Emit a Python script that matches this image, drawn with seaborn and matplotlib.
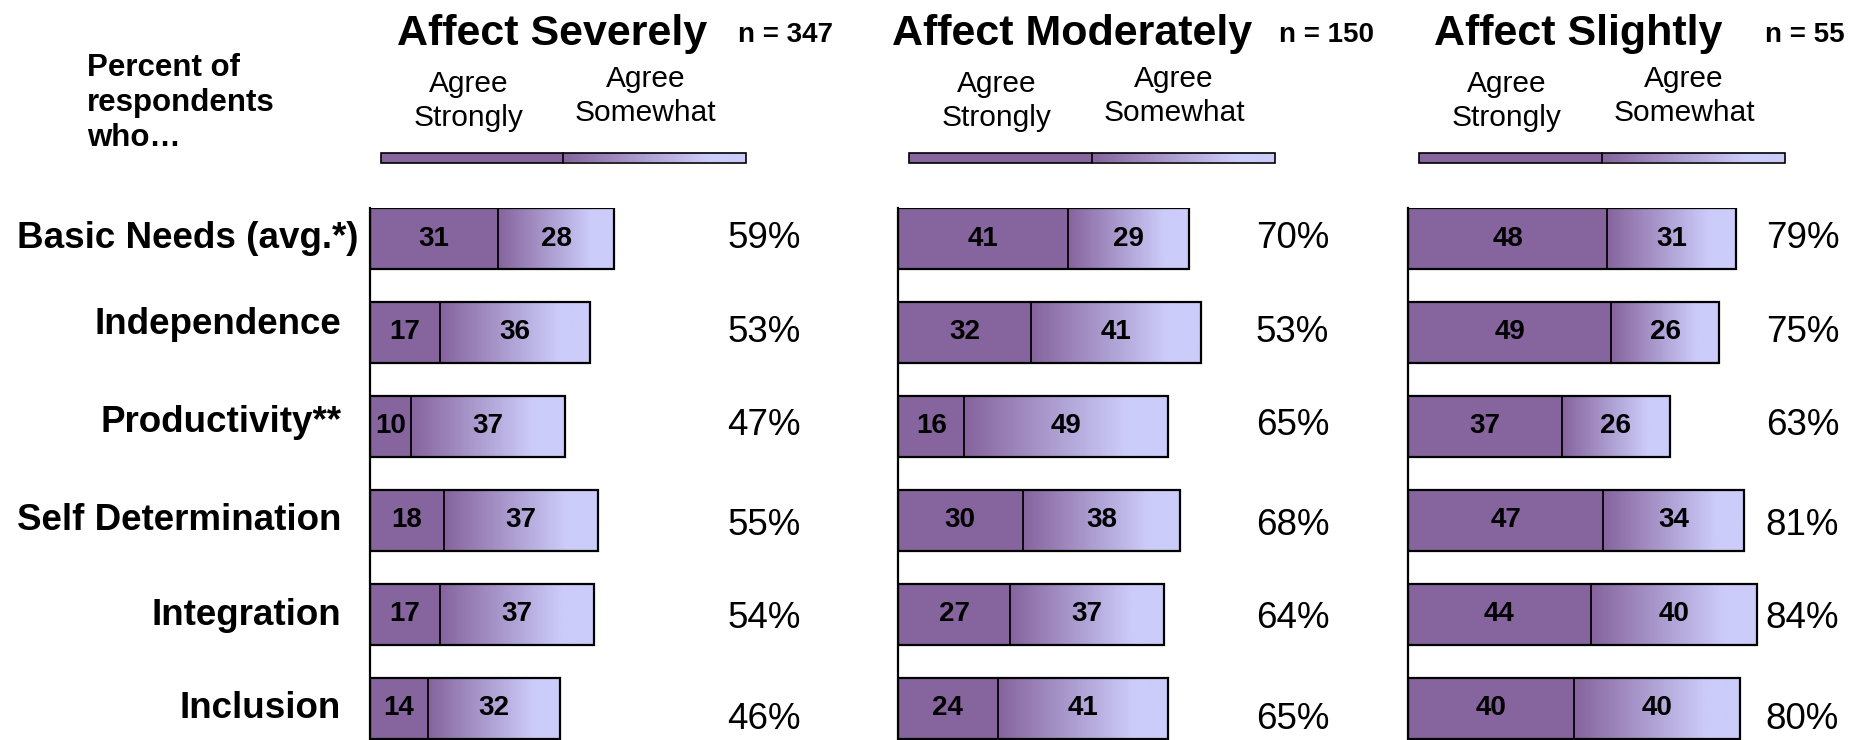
import numpy as np
import pandas as pd
import seaborn as sns
import matplotlib.pyplot as plt
import matplotlib.transforms as mtransforms
from matplotlib.colors import LinearSegmentedColormap
from matplotlib.patches import Rectangle

# DATA

categories = ["Basic Needs (avg.*)", "Independence", "Productivity**",
              "Self Determination", "Integration", "Inclusion"]

panel_titles = ["Affect Severely", "Affect Moderately", "Affect Slightly"]
panel_n = ["n = 347", "n = 150", "n = 55"]

strongly_sev = [31, 17, 10, 18, 17, 14]
somewhat_sev = [28, 36, 37, 37, 37, 32]
total_sev = ["59%", "53%", "47%", "55%", "54%", "46%"]

strongly_mod = [41, 32, 16, 30, 27, 24]
somewhat_mod = [29, 41, 49, 38, 37, 41]
total_mod = ["70%", "53%", "65%", "68%", "64%", "65%"]

strongly_sli = [48, 49, 37, 47, 44, 40]
somewhat_sli = [31, 26, 26, 34, 40, 40]
total_sli = ["79%", "75%", "63%", "81%", "84%", "80%"]

panels = [
    (strongly_sev, somewhat_sev, total_sev),
    (strongly_mod, somewhat_mod, total_mod),
    (strongly_sli, somewhat_sli, total_sli),
]

# LAYOUT (figure pixels)

W, H = 1860, 740
AX_TOP = 208
PX_UNIT = 4.152
axis_left = [369.5, 898, 1408]
title_x = [552, 1072, 1578]
n_x = [785, 1326, 1805]
label_pad = [11, 28, 28, 28, 28, 29]
label_dy = [0, -8, -4, 0, 1, 0]
pct_dy = [0, 0, -1, 5, 4, 11]

DARK = "#86649E"
LIGHT = "#CCCCFA"
cmap = LinearSegmentedColormap.from_list("agree", [DARK, LIGHT])
ramp = np.clip(np.linspace(0, 1, 256) / 0.8, 0, 1)[None, :]

sns.set_theme(style="white")
plt.rcParams["font.family"] = ["Liberation Sans", "DejaVu Sans"]
plt.rcParams["text.color"] = "black"

fig = plt.figure(figsize=(W / 100, H / 100), dpi=100)
fig.patch.set_facecolor("white")


def fx(x):
    return x / W


def fy(y):
    return 1 - y / H


for i, (strong, some, tot) in enumerate(panels):
    x0 = axis_left[i]
    ax = fig.add_axes([fx(x0), 0, 100 * PX_UNIT / W, (H - AX_TOP) / H])

    df = pd.DataFrame({"category": categories, "strongly": strong, "somewhat": some})
    df["total"] = df["strongly"] + df["somewhat"]

    sns.barplot(data=df, x="total", y="category", orient="h", color=LIGHT,
                saturation=1, width=0.65, edgecolor="black", linewidth=1.6, ax=ax)
    tot_bars = list(ax.patches)
    sns.barplot(data=df, x="strongly", y="category", orient="h", color=DARK,
                saturation=1, width=0.65, edgecolor="black", linewidth=1.3, ax=ax)
    str_bars = list(ax.patches)[len(tot_bars):]

    for pt, ps in zip(tot_bars, str_bars):
        left = ps.get_x() + ps.get_width()
        right = pt.get_x() + pt.get_width()
        y0 = pt.get_y()
        y1 = y0 + pt.get_height()
        ax.imshow(ramp, cmap=cmap, vmin=0, vmax=1, extent=(left, right, y1, y0),
                  aspect="auto", interpolation="bilinear", zorder=1)
        pt.set_facecolor("none")
        pt.set_zorder(3)
        ps.set_zorder(2)

    ax.bar_label(ax.containers[1], labels=[str(v) for v in strong],
                 label_type="center", fontsize=20, fontweight="bold",
                 color="black", zorder=4)
    for pt, ps, v in zip(tot_bars, str_bars, some):
        left = ps.get_x() + ps.get_width()
        right = pt.get_x() + pt.get_width()
        ax.text((left + right) / 2, pt.get_y() + pt.get_height() / 2, str(v),
                ha="center", va="center", fontsize=20, fontweight="bold",
                color="black", zorder=4)

    for j, lab in enumerate(tot):
        tr = mtransforms.offset_copy(ax.transData, fig=fig, y=-pct_dy[j], units="dots")
        ax.text(95, j, lab, ha="center", va="center", fontsize=26.5,
                color="black", transform=tr, clip_on=False)

    if i == 0:
        for j, cat in enumerate(categories):
            tr = mtransforms.offset_copy(ax.get_yaxis_transform(), fig=fig,
                                         x=-label_pad[j], y=-label_dy[j], units="dots")
            ax.text(0, j, cat, ha="right", va="center", fontsize=26.5,
                    fontweight="bold", color="black", transform=tr, clip_on=False)

    ax.set_xlim(0, 100)
    ax.set_ylim(5.34, -0.325)
    ax.set_xticks([])
    ax.set_yticks([])
    ax.set_xlabel("")
    ax.set_ylabel("")
    sns.despine(ax=ax, top=True, right=True, bottom=True, left=False)
    ax.spines["left"].set_color("black")
    ax.spines["left"].set_linewidth(1.6)

    # headers
    fig.text(fx(title_x[i]), fy(45), panel_titles[i], ha="center", va="baseline",
             fontsize=31, fontweight="bold")
    fig.text(fx(n_x[i]), fy(41.5), panel_n[i], ha="center", va="baseline",
             fontsize=20, fontweight="bold")
    fig.text(fx(x0 + 99), fy(101), "Agree\nStrongly", ha="center", va="center",
             fontsize=21.5, linespacing=1.27)
    fig.text(fx(x0 + 276), fy(96), "Agree\nSomewhat", ha="center", va="center",
             fontsize=21.5, linespacing=1.27)

    # legend key bar
    lax = fig.add_axes([fx(x0 + 11), fy(162.5), 365.5 / W, 9.5 / H])
    lax.set_xlim(0, 1)
    lax.set_ylim(0, 1)
    lax.axis("off")
    split = (193.5 - 11) / 365.5
    lax.add_patch(Rectangle((0, 0), split, 1, facecolor=DARK, edgecolor="none"))
    lax.imshow(ramp, cmap=cmap, vmin=0, vmax=1, extent=(split, 1, 0, 1),
               aspect="auto", interpolation="bilinear")
    lax.add_patch(Rectangle((0, 0), 1, 1, facecolor="none", edgecolor="black",
                            linewidth=1.2, clip_on=False))
    lax.plot([split, split], [0, 1], color="black", linewidth=1.2, clip_on=False)

fig.text(fx(87), fy(103), "Percent of\nrespondents\nwho\u2026", ha="left", va="center",
         fontsize=22.5, fontweight="bold", linespacing=1.22)

plt.savefig("out.png", dpi=100, facecolor="white")
plt.close()
